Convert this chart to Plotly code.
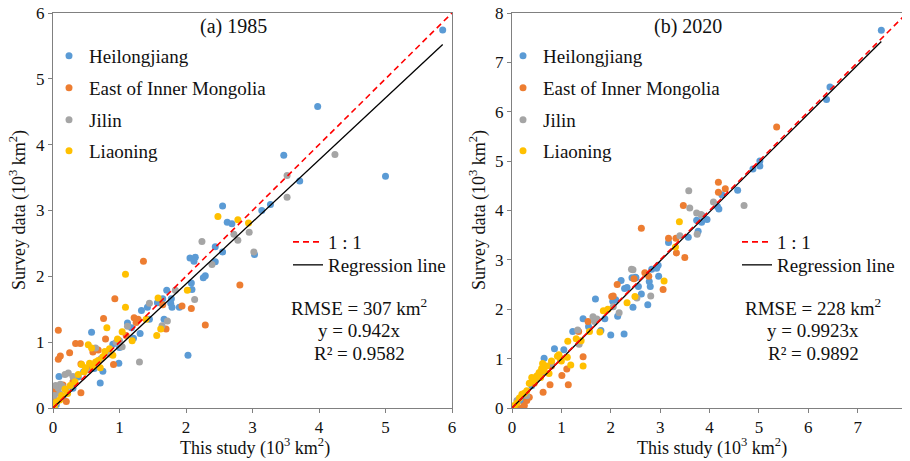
import plotly.graph_objects as go

# page body adds an 8px margin; design in window pixels and shift by OFF
OFF = 8
W, H = 910 - OFF, 461 - OFF

series_names = ["Heilongjiang", "East of Inner Mongolia", "Jilin", "Liaoning"]
series_colors = ["#5B9BD5", "#ED7D31", "#A5A5A5", "#FFC000"]

# ---------- (a) 1985 ----------
a_hlj_x = [5.86,3.98,3.47,5.00,3.71,3.27,3.14,2.55,2.62,2.69,3.03,2.06,2.14,2.12,2.44,2.55,2.44,2.26,2.29,2.08,2.09,2.03,0.71,0.09,0.58,1.33,1.42,1.57,1.71,1.65,1.78,1.77,1.79,1.90,1.67,1.12,1.31,1.21,0.90,0.99,0.38,0.30,0.46,0.75,1.00,1.18,0.15,0.05,0.62,1.45]
a_hlj_y = [5.74,4.58,3.84,3.52,3.45,3.09,3.00,3.07,2.82,2.80,2.33,2.28,2.29,2.23,2.45,2.37,2.22,1.98,2.01,1.90,1.80,0.80,0.38,0.48,1.15,1.48,1.53,1.60,1.79,1.66,1.66,1.59,1.53,1.53,1.35,1.29,1.13,1.06,0.97,0.68,0.47,0.30,0.55,0.56,0.92,1.22,0.15,0.05,0.60,1.35]
a_eim_x = [2.81,2.29,2.08,1.94,1.36,0.93,0.76,0.08,0.34,0.41,0.11,0.08,0.25,0.42,0.42,0.91,0.79,1.70,1.65,1.28,0.03,0.05,0.15,0.20,0.60,1.25,1.10,0.68,0.02,0.30,0.55,1.22]
a_eim_y = [1.87,1.26,1.51,1.55,2.23,1.66,1.36,1.18,0.98,0.98,0.79,0.74,0.84,0.67,0.23,0.66,1.05,1.20,1.57,1.35,0.24,0.30,0.35,0.10,0.85,1.30,1.10,0.88,0.12,0.40,0.62,1.37]
a_jl_x = [4.24,3.52,3.52,2.72,2.78,2.95,2.24,2.39,3.02,2.13,1.84,1.45,1.72,1.64,1.30,0.18,0.23,0.64,0.95,1.04,1.12,0.04,0.11,0.02,0.08,0.14,0.20,0.50,0.72,0.85,1.00,0.03,0.10,0.30]
a_jl_y = [3.85,3.53,3.20,2.64,2.55,2.67,2.53,2.18,2.37,1.65,1.79,1.59,1.32,1.25,0.70,0.51,0.53,0.91,1.00,0.93,1.24,0.34,0.36,0.19,0.30,0.33,0.27,0.58,0.75,0.82,1.02,0.08,0.22,0.48]
a_ln_x = [2.48,2.78,2.94,2.02,1.09,1.09,1.58,1.62,1.56,0.81,1.04,0.97,1.19,0.53,0.58,0.43,0.49,0.64,0.71,0.78,0.38,0.26,0.18,0.13,0.05,0.55,0.60,0.68,0.85,0.90,0.33,0.22,0.10,0.02,1.40,0.47,0.75]
a_ln_y = [2.91,2.86,2.81,1.79,2.03,1.53,1.67,1.20,1.10,1.22,1.16,1.05,1.02,0.96,0.91,0.66,0.61,0.70,0.61,0.86,0.51,0.34,0.29,0.19,0.09,0.68,0.63,0.72,0.90,0.80,0.40,0.22,0.12,0.02,1.35,0.55,0.78]
a_slope = 0.942
a_axis_max = 6
a_title = "(a) 1985"
a_stats = ["RMSE = 307 km<sup>2</sup>", "y = 0.942x", "R² = 0.9582"]

# ---------- (b) 2020 ----------
b_hlj_x = [7.48,6.44,6.37,5.02,5.02,4.88,4.57,4.25,4.16,4.19,3.85,3.74,3.84,3.95,3.77,3.17,3.57,2.96,2.93,2.83,2.97,2.78,2.80,2.75,2.62,2.51,2.21,2.43,2.50,2.28,2.33,2.56,2.45,2.10,2.04,2.14,2.00,2.27,1.69,1.80,0.65,0.86,0.98,1.05,1.23,1.44,1.88,0.40,0.20,1.55]
b_hlj_y = [7.65,6.50,6.25,5.00,4.90,4.84,4.41,4.32,4.08,4.03,3.90,3.80,3.76,3.82,3.58,3.35,3.46,2.89,2.83,2.81,2.67,2.56,2.46,2.09,2.31,2.64,2.58,2.64,2.65,2.42,2.44,2.46,2.04,2.19,2.16,1.86,1.48,1.50,2.21,1.57,1.01,1.20,1.01,1.18,1.55,1.81,1.81,0.45,0.15,1.65]
b_eim_x = [5.36,4.18,4.18,4.32,3.47,2.62,3.17,3.32,3.33,3.50,2.69,2.77,3.06,2.13,2.05,2.02,1.44,1.14,1.01,0.77,0.63,1.11,1.35,1.54,0.80,0.25,0.30,0.20,0.35,0.45,0.10,2.47,0.55]
b_eim_y = [5.69,4.57,4.37,4.44,4.10,3.64,3.44,3.44,3.14,3.05,2.74,2.67,2.40,2.50,2.27,2.26,1.04,0.47,0.66,0.47,0.32,0.79,1.55,1.75,0.85,0.05,0.15,0.00,0.22,0.50,0.05,2.62,0.70]
b_jl_x = [4.70,4.08,3.58,3.60,3.74,3.83,3.75,3.40,2.42,2.81,2.53,2.17,1.36,1.33,1.64,1.67,0.80,0.60,0.30,0.10,2.45,1.72,2.05,0.50]
b_jl_y = [4.10,4.17,4.40,4.05,3.95,3.92,3.52,3.49,2.81,2.27,2.23,1.93,1.29,1.58,1.85,1.75,0.90,0.70,0.25,0.15,2.80,1.80,2.05,0.60]
b_ln_x = [3.39,3.31,3.08,2.49,2.33,1.94,1.78,1.44,1.19,1.12,1.13,1.40,1.57,1.85,0.92,0.95,0.98,0.55,0.60,0.65,0.50,0.45,0.40,0.35,0.70,0.75,0.30,0.25,0.20,0.15,0.10,0.05,0.62,0.58,0.80,1.30,1.00]
b_ln_y = [3.77,3.26,2.57,2.26,2.13,2.00,1.54,0.85,0.87,1.03,1.35,1.36,1.55,1.97,1.05,1.08,1.00,0.72,0.80,0.75,0.65,0.55,0.62,0.50,0.85,0.70,0.35,0.30,0.28,0.20,0.10,0.05,0.90,0.62,0.95,1.40,0.95]
b_slope = 0.9923
b_axis_max = 8
b_title = "(b) 2020"
b_stats = ["RMSE = 228 km<sup>2</sup>", "y = 0.9923x", "R² = 0.9892"]

FONT = "Liberation Serif"
TXT = "#111111"


def px(x):
    return (x - OFF) / W


def py(y):
    return 1 - (y - OFF) / H


panels = [
    dict(xs=[a_hlj_x, a_eim_x, a_jl_x, a_ln_x], ys=[a_hlj_y, a_eim_y, a_jl_y, a_ln_y],
         slope=a_slope, amax=a_axis_max, title=a_title, stats=a_stats,
         x0=53, x1=452, title_x=233, stats_x=359, ytitle_x=18, xtitle_x=255,
         leg_x=49, leg2_x=288),
    dict(xs=[b_hlj_x, b_eim_x, b_jl_x, b_ln_x], ys=[b_hlj_y, b_eim_y, b_jl_y, b_ln_y],
         slope=b_slope, amax=b_axis_max, title=b_title, stats=b_stats,
         x0=512, x1=907, title_x=688, stats_x=813, ytitle_x=478, xtitle_x=712,
         leg_x=503, leg2_x=737),
]
Y0, Y1 = 13, 408
marker_rows = [57, 89, 121, 152]
line_rows = [243, 266]

fig = go.Figure()
annotations = []
layout = dict(width=W, height=H, margin=dict(l=0, r=0, t=0, b=0, autoexpand=False),
              paper_bgcolor="white", plot_bgcolor="white", showlegend=True,
              font=dict(family=FONT, color=TXT, size=17))
legfont = dict(family=FONT, size=19, color=TXT)
leg_n = [0]


def new_legend(xpix, ycenter):
    leg_n[0] += 1
    key = "legend" if leg_n[0] == 1 else "legend%d" % leg_n[0]
    layout[key] = dict(x=px(xpix), y=py(ycenter - 20), xanchor="left", yanchor="top",
                       xref="paper", yref="paper", bgcolor="rgba(0,0,0,0)",
                       font=legfont, itemwidth=30, borderwidth=0, visible=True)
    return key


for i, p in enumerate(panels):
    ax = "" if i == 0 else "2"
    xa, ya = "x" + ax, "y" + ax
    for k, (name, col, xv, yv) in enumerate(zip(series_names, series_colors, p["xs"], p["ys"])):
        lg = new_legend(p["leg_x"], marker_rows[k])
        fig.add_trace(go.Scatter(x=xv, y=yv, mode="markers", name=name, showlegend=True,
                                 marker=dict(color=col, size=7, line=dict(width=0)),
                                 xaxis=xa, yaxis=ya, legend=lg))
    xmax = max(max(v) for v in p["xs"])
    lg1 = new_legend(p["leg2_x"], line_rows[0])
    lg2 = new_legend(p["leg2_x"], line_rows[1])
    fig.add_trace(go.Scatter(x=[0, xmax], y=[0, p["slope"] * xmax], mode="lines",
                             name="Regression line", showlegend=True,
                             line=dict(color="#000000", width=1.3),
                             xaxis=xa, yaxis=ya, legend=lg2))
    fig.add_trace(go.Scatter(x=[0, p["amax"]], y=[0, p["amax"]], mode="lines",
                             name="1 : 1", showlegend=True,
                             line=dict(color="#FF0000", width=1.6, dash="6px,4px"),
                             xaxis=xa, yaxis=ya, legend=lg1))

    dom_x = [px(p["x0"]), px(p["x1"])]
    dom_y = [py(Y1), py(Y0)]
    axis_common = dict(showgrid=False, zeroline=False, showline=True, mirror=True,
                       linecolor="#808080", linewidth=1, ticks="outside", ticklen=4,
                       tickcolor="#808080", tickfont=dict(family=FONT, size=17, color=TXT),
                       range=[0, p["amax"]], dtick=1, fixedrange=True, automargin=False,
                       ticklabeloverflow="allow")
    layout["xaxis" + ax] = dict(domain=dom_x, anchor=ya, **axis_common)
    layout["yaxis" + ax] = dict(domain=dom_y, anchor=xa, **axis_common)

    annotations.append(dict(text=p["title"], x=px(p["title_x"]), y=py(27), xref="paper",
                            yref="paper", xanchor="center", yanchor="middle", showarrow=False,
                            font=dict(family=FONT, size=20, color=TXT)))
    for k, s in enumerate(p["stats"]):
        annotations.append(dict(text=s, x=px(p["stats_x"]), y=py(307 + 23 * k),
                                xref="paper", yref="paper", xanchor="center", yanchor="middle",
                                showarrow=False, font=dict(family=FONT, size=19, color=TXT)))
    annotations.append(dict(text="Survey data (10<sup>3</sup> km<sup>2</sup>)", textangle=-90,
                            x=px(p["ytitle_x"]), y=py(210), xref="paper", yref="paper",
                            xanchor="center", yanchor="middle",
                            showarrow=False, font=dict(family=FONT, size=18, color=TXT)))
    annotations.append(dict(text="This study (10<sup>3</sup> km<sup>2</sup>)",
                            x=px(p["xtitle_x"]), y=py(447), xref="paper", yref="paper",
                            xanchor="center", yanchor="middle",
                            showarrow=False, font=dict(family=FONT, size=18, color=TXT)))

layout["annotations"] = annotations
fig.update_layout(**layout)
fig.write_html("out.html")
